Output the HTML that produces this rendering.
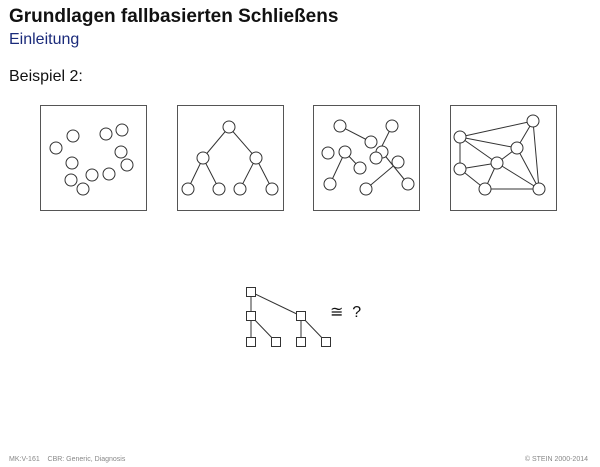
<!DOCTYPE html>
<html><head><meta charset="utf-8"><style>
body{margin:0;width:600px;height:467px;background:#fff;font-family:"Liberation Sans",sans-serif;overflow:hidden;position:relative}
.t{position:absolute;white-space:nowrap}
</style></head><body>
<div class="t" style="left:9px;top:6px;font-size:19px;font-weight:bold;color:#111">Grundlagen fallbasierten Schließens</div>
<div class="t" style="left:9px;top:31px;font-size:16px;color:#1a2a7a">Einleitung</div>
<div class="t" style="left:9px;top:68px;font-size:16px;color:#111">Beispiel 2:</div>
<svg width="600" height="467" style="position:absolute;left:0;top:0" stroke="#333" fill="#fff" stroke-width="1">
<g>
<rect x="40.5" y="105.5" width="106" height="105" stroke="#555"/>
<ellipse cx="56" cy="148" rx="6" ry="6"/><ellipse cx="73" cy="136" rx="6" ry="6"/><ellipse cx="106" cy="134" rx="6" ry="6"/><ellipse cx="122" cy="130" rx="6" ry="6"/><ellipse cx="121" cy="152" rx="6" ry="6"/><ellipse cx="127" cy="165" rx="6" ry="6"/><ellipse cx="72" cy="163" rx="6" ry="6"/><ellipse cx="71" cy="180" rx="6" ry="6"/><ellipse cx="92" cy="175" rx="6" ry="6"/><ellipse cx="109" cy="174" rx="6" ry="6"/><ellipse cx="83" cy="189" rx="6" ry="6"/>
</g>
<g>
<rect x="177.5" y="105.5" width="106" height="105" stroke="#555"/>
<path d="M229 127L203 158M229 127L256 158M203 158L188 189M203 158L219 189M256 158L240 189M256 158L272 189"/>
<ellipse cx="229" cy="127" rx="6" ry="6"/><ellipse cx="203" cy="158" rx="6" ry="6"/><ellipse cx="256" cy="158" rx="6" ry="6"/><ellipse cx="188" cy="189" rx="6" ry="6"/><ellipse cx="219" cy="189" rx="6" ry="6"/><ellipse cx="240" cy="189" rx="6" ry="6"/><ellipse cx="272" cy="189" rx="6" ry="6"/>
</g>
<g>
<rect x="313.5" y="105.5" width="106" height="105" stroke="#555"/>
<path d="M340 126L371 142M392 126L376 158M345 152L360 168M345 152L330 184M382 152L408 184M398 162L366 189"/>
<ellipse cx="340" cy="126" rx="6" ry="6"/><ellipse cx="371" cy="142" rx="6" ry="6"/><ellipse cx="392" cy="126" rx="6" ry="6"/><ellipse cx="382" cy="152" rx="6" ry="6"/><ellipse cx="376" cy="158" rx="6" ry="6"/><ellipse cx="328" cy="153" rx="6" ry="6"/><ellipse cx="345" cy="152" rx="6" ry="6"/><ellipse cx="360" cy="168" rx="6" ry="6"/><ellipse cx="398" cy="162" rx="6" ry="6"/><ellipse cx="330" cy="184" rx="6" ry="6"/><ellipse cx="366" cy="189" rx="6" ry="6"/><ellipse cx="408" cy="184" rx="6" ry="6"/>
</g>
<g>
<rect x="450.5" y="105.5" width="106" height="105" stroke="#555"/>
<path d="M460 137L533 121M460 137L517 148M460 137L497 163M460 137L460 169M517 148L533 121M533 121L539 189M517 148L497 163M517 148L539 189M497 163L460 169M497 163L485 189M497 163L539 189M460 169L485 189M485 189L539 189"/>
<ellipse cx="460" cy="137" rx="6" ry="6"/><ellipse cx="533" cy="121" rx="6" ry="6"/><ellipse cx="517" cy="148" rx="6" ry="6"/><ellipse cx="497" cy="163" rx="6" ry="6"/><ellipse cx="460" cy="169" rx="6" ry="6"/><ellipse cx="485" cy="189" rx="6" ry="6"/><ellipse cx="539" cy="189" rx="6" ry="6"/>
</g>
<g>
<path d="M251 292L251 342M251 292L301 316M251 316L276 342M301 316L301 342M301 316L326 342"/>
<rect x="246.5" y="287.5" width="9" height="9"/><rect x="246.5" y="311.5" width="9" height="9"/><rect x="296.5" y="311.5" width="9" height="9"/><rect x="246.5" y="337.5" width="9" height="9"/><rect x="271.5" y="337.5" width="9" height="9"/><rect x="296.5" y="337.5" width="9" height="9"/><rect x="321.5" y="337.5" width="9" height="9"/>
</g>
</svg>
<div class="t" style="left:330px;top:302px;font-size:16px;color:#111">≅ &nbsp;?</div>
<div class="t" style="left:9px;top:456px;font-size:7px;color:#888">MK:V-161 &nbsp;&nbsp;&nbsp;CBR: Generic, Diagnosis</div>
<div class="t" style="right:12px;top:456px;font-size:7px;color:#888">© STEIN 2000-2014</div>
</body></html>
